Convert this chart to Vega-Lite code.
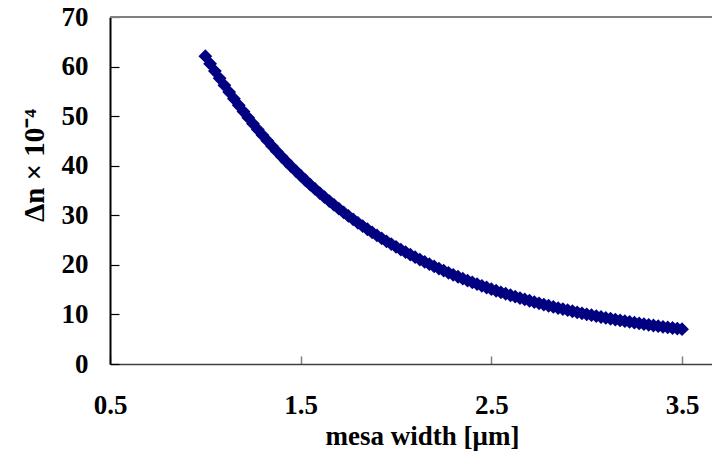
{
  "$schema": "https://vega.github.io/schema/vega-lite/v6.json",
  "width": 602,
  "height": 347,
  "autosize": {"type": "none"},
  "padding": {"left": 110, "top": 17, "right": 0, "bottom": 87},
  "background": "white",
  "config": {"view": {"stroke": null}, "font": "Liberation Serif"},
  "data": {
    "values": [
      {"w": 1.000, "dn": 62.10}, {"w": 1.025, "dn": 60.57}, {"w": 1.050, "dn": 59.09}, {"w": 1.075, "dn": 57.64},
      {"w": 1.100, "dn": 56.22}, {"w": 1.125, "dn": 54.85}, {"w": 1.150, "dn": 53.51}, {"w": 1.175, "dn": 52.20},
      {"w": 1.200, "dn": 50.93}, {"w": 1.225, "dn": 49.69}, {"w": 1.250, "dn": 48.48}, {"w": 1.275, "dn": 47.30},
      {"w": 1.300, "dn": 46.15}, {"w": 1.325, "dn": 45.04}, {"w": 1.350, "dn": 43.95}, {"w": 1.375, "dn": 42.89},
      {"w": 1.400, "dn": 41.85}, {"w": 1.425, "dn": 40.84}, {"w": 1.450, "dn": 39.86}, {"w": 1.475, "dn": 38.91},
      {"w": 1.500, "dn": 37.98}, {"w": 1.525, "dn": 37.07}, {"w": 1.550, "dn": 36.18}, {"w": 1.575, "dn": 35.32},
      {"w": 1.600, "dn": 34.48}, {"w": 1.625, "dn": 33.66}, {"w": 1.650, "dn": 32.87}, {"w": 1.675, "dn": 32.09},
      {"w": 1.700, "dn": 31.33}, {"w": 1.725, "dn": 30.59}, {"w": 1.750, "dn": 29.88}, {"w": 1.775, "dn": 29.18},
      {"w": 1.800, "dn": 28.49}, {"w": 1.825, "dn": 27.83}, {"w": 1.850, "dn": 27.18}, {"w": 1.875, "dn": 26.55},
      {"w": 1.900, "dn": 25.94}, {"w": 1.925, "dn": 25.34}, {"w": 1.950, "dn": 24.75}, {"w": 1.975, "dn": 24.19},
      {"w": 2.000, "dn": 23.63}, {"w": 2.025, "dn": 23.09}, {"w": 2.050, "dn": 22.57}, {"w": 2.075, "dn": 22.05},
      {"w": 2.100, "dn": 21.55}, {"w": 2.125, "dn": 21.07}, {"w": 2.150, "dn": 20.59}, {"w": 2.175, "dn": 20.13},
      {"w": 2.200, "dn": 19.68}, {"w": 2.225, "dn": 19.24}, {"w": 2.250, "dn": 18.82}, {"w": 2.275, "dn": 18.40},
      {"w": 2.300, "dn": 18.00}, {"w": 2.325, "dn": 17.60}, {"w": 2.350, "dn": 17.22}, {"w": 2.375, "dn": 16.84},
      {"w": 2.400, "dn": 16.47}, {"w": 2.425, "dn": 16.12}, {"w": 2.450, "dn": 15.77}, {"w": 2.475, "dn": 15.43},
      {"w": 2.500, "dn": 15.10}, {"w": 2.525, "dn": 14.78}, {"w": 2.550, "dn": 14.47}, {"w": 2.575, "dn": 14.17},
      {"w": 2.600, "dn": 13.87}, {"w": 2.625, "dn": 13.58}, {"w": 2.650, "dn": 13.30}, {"w": 2.675, "dn": 13.02},
      {"w": 2.700, "dn": 12.76}, {"w": 2.725, "dn": 12.50}, {"w": 2.750, "dn": 12.24}, {"w": 2.775, "dn": 11.99},
      {"w": 2.800, "dn": 11.75}, {"w": 2.825, "dn": 11.52}, {"w": 2.850, "dn": 11.29}, {"w": 2.875, "dn": 11.07},
      {"w": 2.900, "dn": 10.85}, {"w": 2.925, "dn": 10.64}, {"w": 2.950, "dn": 10.43}, {"w": 2.975, "dn": 10.23},
      {"w": 3.000, "dn": 10.03}, {"w": 3.025, "dn": 9.84}, {"w": 3.050, "dn": 9.66}, {"w": 3.075, "dn": 9.48},
      {"w": 3.100, "dn": 9.30}, {"w": 3.125, "dn": 9.13}, {"w": 3.150, "dn": 8.96}, {"w": 3.175, "dn": 8.80},
      {"w": 3.200, "dn": 8.64}, {"w": 3.225, "dn": 8.48}, {"w": 3.250, "dn": 8.33}, {"w": 3.275, "dn": 8.19},
      {"w": 3.300, "dn": 8.04}, {"w": 3.325, "dn": 7.90}, {"w": 3.350, "dn": 7.77}, {"w": 3.375, "dn": 7.63},
      {"w": 3.400, "dn": 7.50}, {"w": 3.425, "dn": 7.38}, {"w": 3.450, "dn": 7.26}, {"w": 3.475, "dn": 7.14},
      {"w": 3.500, "dn": 7.02}
    ]
  },
  "layer": [
    {
      "mark": {"type": "rule", "color": "#808080", "strokeWidth": 1.5},
      "encoding": {
        "y": {"datum": 70, "type": "quantitative", "scale": {"domain": [0, 70], "nice": false}}
      }
    },
    {
      "mark": {"type": "point", "shape": "diamond", "filled": true, "color": "#000080", "size": 190, "opacity": 1},
      "encoding": {
        "x": {
          "field": "w",
          "type": "quantitative",
          "scale": {"domain": [0.5, 3.657], "nice": false, "zero": false},
          "axis": {
            "values": [0.5, 1.5, 2.5, 3.5],
            "format": ".1f",
            "grid": false,
            "domainColor": "#404040",
            "domainWidth": 1.5,
            "tickColor": "#808080",
            "tickWidth": 1.5,
            "tickSize": -8,
            "labelFont": "Liberation Serif",
            "labelFontWeight": "bold",
            "labelFontSize": 27,
            "labelColor": "black",
            "labelPadding": 36,
            "labelFlush": false,
            "title": "mesa width [μm]",
            "titleFont": "Liberation Serif",
            "titleFontWeight": "bold",
            "titleFontSize": 27,
            "titleColor": "black",
            "titleX": 312,
            "titleY": 80,
            "titleAlign": "center",
            "titleBaseline": "alphabetic"
          }
        },
        "y": {
          "field": "dn",
          "type": "quantitative",
          "scale": {"domain": [0, 70], "nice": false},
          "axis": {
            "values": [0, 10, 20, 30, 40, 50, 60, 70],
            "grid": false,
            "domainColor": "black",
            "domainWidth": 2,
            "tickColor": "black",
            "tickWidth": 1.2,
            "tickSize": -9,
            "labelFont": "Liberation Serif",
            "labelFontWeight": "bold",
            "labelFontSize": 27,
            "labelColor": "black",
            "labelPadding": 31,
            "title": "Δn × 10⁻⁴",
            "titleFont": "Liberation Serif",
            "titleFontWeight": "bold",
            "titleFontSize": 29,
            "titleColor": "black",
            "titleAngle": 270,
            "titleX": -76,
            "titleY": 148,
            "titleAlign": "center",
            "titleBaseline": "middle"
          }
        }
      }
    }
  ]
}
